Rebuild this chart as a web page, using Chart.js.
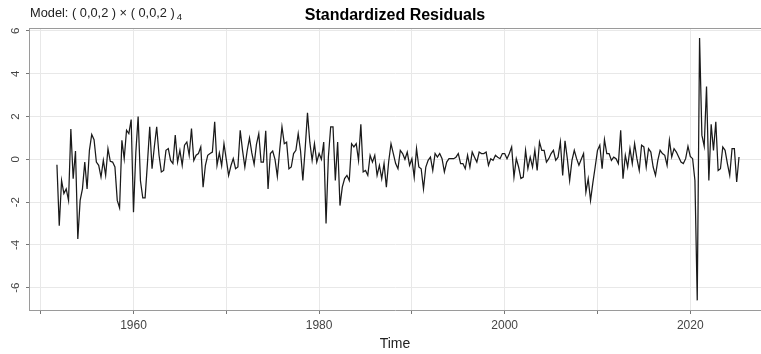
<!DOCTYPE html>
<html>
<head>
<meta charset="utf-8">
<script src="https://cdn.jsdelivr.net/npm/chart.js@4.4.1/dist/chart.umd.min.js"></script>
<style>
  body { margin: 0; background: #fff; }
  canvas { display: block; }
</style>
</head>
<body>
<canvas id="residChart" width="761" height="354"></canvas>
<script>
// quarterly series, time index like ts(start, frequency = 4)
const startTime = 1951.75;
const frequency = 4;

const residuals = [
    -0.25, -3.10, -0.99, -1.60, -1.38, -1.92, 1.41, -0.91, 0.39, -3.72,
    -1.92, -1.38, -0.13, -1.38, 0.42, 1.16, 0.92, -0.13, -0.28, -0.83,
    -0.05, -0.75, 0.50, -0.09, -0.13, -0.36, -1.92, -2.27, 0.89, 0.03,
    1.36, 1.20, 1.86, -2.47, 0.30, 2.00, -1.00, -1.80, -1.80, -0.20,
    1.52, -0.44, 0.60, 1.52, 0.20, -0.59, -0.52, 0.42, 0.50, -0.05,
    -0.20, 1.13, -0.13, 0.42, -0.28, 0.66, 0.81, 0.19, 1.44, -0.05,
    0.19, 0.27, 0.58, -1.30, -0.28, 0.19, 0.27, 0.34, 1.75, -0.28,
    0.30, -0.30, 0.73, 0.00, -0.75, -0.30, 0.03, -0.44, -0.36, 1.36,
    0.42, -0.36, 0.40, 1.00, 0.30, -0.23, 0.70, 1.20, -0.13, -0.13,
    1.33, -1.38, 0.27, 0.39, 0.00, -0.80, 0.42, 1.52, 0.73, 0.80,
    -0.44, -0.36, 0.27, 0.42, 1.20, 0.40, -0.99, 0.50, 2.17, 0.80,
    -0.05, 0.73, -0.13, 0.27, 0.00, 0.81, -3.00, 0.10, 1.52, 1.52,
    -0.99, 0.81, -2.16, -1.30, -0.90, -0.75, -0.99, 0.73, 0.58, 0.73,
    -0.05, 1.64, -0.59, -0.52, -0.75, 0.19, -0.13, 0.19, -0.75, -0.28,
    -0.90, -0.20, -1.30, -0.10, 0.73, 0.27, -0.20, -0.44, 0.42, 0.27,
    0.00, 0.34, -0.28, 0.03, -0.83, 0.50, -0.36, -0.44, -1.38, -0.36,
    -0.05, 0.10, -0.52, 0.27, 0.10, 0.27, 0.03, -0.59, -0.13, 0.03,
    0.03, 0.03, 0.10, 0.27, -0.20, -0.20, -0.44, 0.19, -0.36, 0.34,
    0.10, -0.13, 0.34, 0.27, 0.27, 0.34, -0.28, 0.03, -0.05, 0.19,
    0.10, 0.03, 0.27, 0.27, 0.03, 0.27, 0.58, -0.83, 0.03, -0.36,
    -0.90, -0.83, 0.42, -0.44, 0.10, -0.36, 0.42, -0.52, 0.81, 0.42,
    0.42, -0.13, 0.03, 0.27, 0.42, -0.05, 0.10, 0.81, -0.75, 0.86,
    0.03, -0.99, -0.05, 0.42, 0.03, -0.28, 0.00, 0.27, -1.53, -0.91,
    -1.92, -1.10, -0.36, 0.42, 0.66, -0.44, 0.92, 0.27, 0.27, -0.05,
    0.10, 0.03, -0.20, 1.36, -0.91, 0.19, -0.36, 0.50, -0.20, 0.73,
    0.03, -0.52, 0.66, 0.58, -0.36, 0.50, 0.34, -0.36, -0.75, -0.05,
    0.42, 0.27, 0.19, -0.28, 0.89, 0.11, 0.50, 0.34, 0.11, -0.13,
    -0.20, 0.03, 0.61, 0.14, 0.03, -0.99, -6.59, 5.67, 1.13, 0.61,
    3.40, -0.99, 1.64, 0.42, 1.75, -0.52, -0.44, 0.58, 0.42, -0.20,
    -0.75, 0.50, 0.50, -1.06, 0.11
];

const xLabelYears = [1960, 1980, 2000, 2020];
const yTickValues = [-6, -4, -2, 0, 2, 4, 6];

const chartTitle = 'Standardized Residuals';
const modelText = 'Model: ( 0,0,2 ) × ( 0,0,2 )';
const modelSub = '4';
const xTitle = 'Time';

const fontFamily = '"Liberation Sans", Arial, Helvetica, sans-serif';

const points = residuals.map((v, i) => ({ x: startTime + i / frequency, y: v }));

// header texts, rotated y labels and top border line
const extraDraw = {
    id: 'extraDraw',
    afterDraw(chart) {
        const { ctx, chartArea: { left, right, top } } = chart;
        const yScale = chart.scales.y;
        ctx.save();

        ctx.strokeStyle = '#9a9a9a';
        ctx.lineWidth = 1;
        ctx.beginPath();
        ctx.moveTo(left, top + 0.5);
        ctx.lineTo(right, top + 0.5);
        ctx.stroke();

        ctx.fillStyle = '#444';
        ctx.font = '11.5px ' + fontFamily;
        ctx.textAlign = 'center';
        ctx.textBaseline = 'middle';
        yTickValues.forEach(v => {
            const py = yScale.getPixelForValue(v);
            ctx.save();
            ctx.translate(16, py);
            ctx.rotate(-Math.PI / 2);
            ctx.fillText(String(v), 0, 0);
            ctx.restore();
        });

        ctx.fillStyle = '#000';
        ctx.font = 'bold 16px ' + fontFamily;
        ctx.textBaseline = 'alphabetic';
        ctx.fillText(chartTitle, (left + right) / 2, 20);

        ctx.fillStyle = '#222';
        ctx.textAlign = 'left';
        ctx.font = '12.8px ' + fontFamily;
        ctx.fillText(modelText, 30, 17);
        const w = ctx.measureText(modelText).width;
        ctx.font = '9.5px ' + fontFamily;
        ctx.fillText(modelSub, 30 + w + 2, 19.5);

        ctx.restore();
    }
};

new Chart(document.getElementById('residChart').getContext('2d'), {
    type: 'line',
    data: {
        datasets: [{
            data: points,
            borderColor: '#1a1a1a',
            borderWidth: 1.25,
            pointRadius: 0,
            tension: 0,
            fill: false
        }]
    },
    options: {
        responsive: false,
        animation: false,
        devicePixelRatio: 1,
        layout: { padding: { top: 28, left: 0, right: 0, bottom: 0 } },
        scales: {
            x: {
                type: 'linear',
                min: 1948.74,
                max: 2027.62,
                afterFit(scale) { scale.height = 44; },
                grid: {
                    color: '#e8e8e8',
                    tickColor: '#777',
                    tickLength: 4
                },
                border: { display: true, color: '#9a9a9a', width: 1 },
                ticks: {
                    stepSize: 10,
                    includeBounds: false,
                    autoSkip: false,
                    maxRotation: 0,
                    padding: 4,
                    color: '#444',
                    font: { family: fontFamily, size: 12 },
                    callback: function (value) {
                        return xLabelYears.includes(value) ? String(value) : '';
                    }
                },
                title: {
                    display: true,
                    text: xTitle,
                    color: '#222',
                    font: { family: fontFamily, size: 14 },
                    padding: { top: 0, bottom: 1 }
                }
            },
            y: {
                min: -7.04,
                max: 6.135,
                afterFit(scale) { scale.width = 29; },
                grid: {
                    color: '#e8e8e8',
                    tickColor: '#777',
                    tickLength: 3
                },
                border: { display: true, color: '#9a9a9a', width: 1 },
                ticks: {
                    stepSize: 2,
                    includeBounds: false,
                    display: false
                }
            }
        },
        plugins: {
            legend: { display: false },
            title: { display: false },
            tooltip: { enabled: false }
        }
    },
    plugins: [extraDraw]
});
</script>
</body>
</html>
